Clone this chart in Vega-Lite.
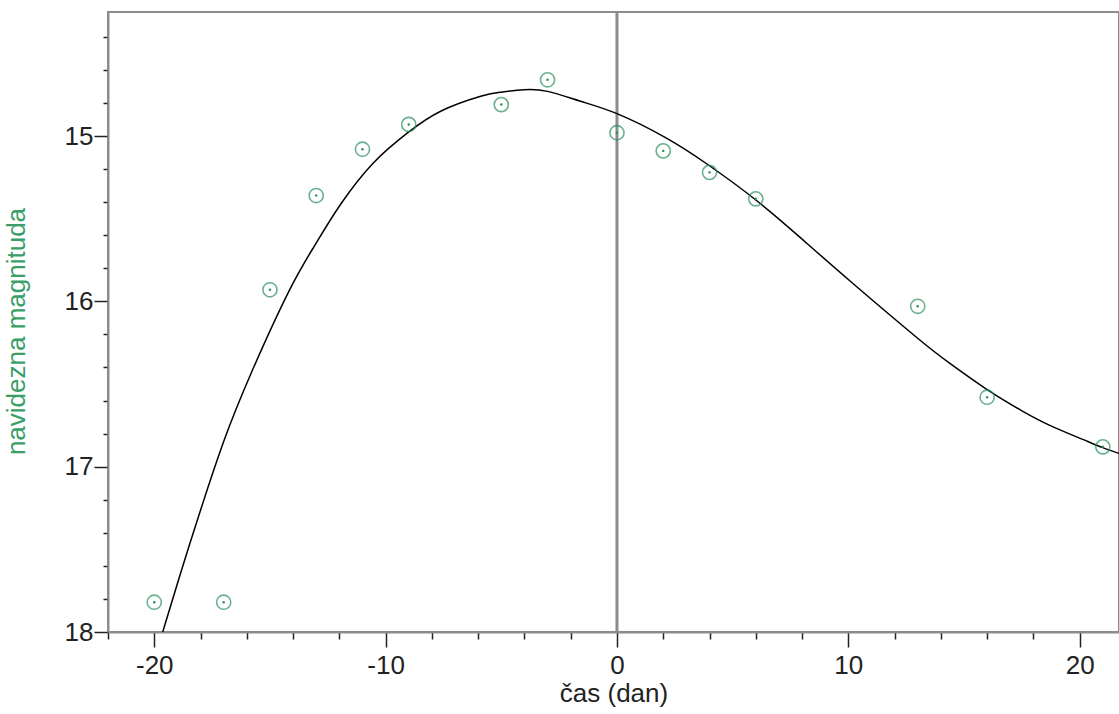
{
  "$schema": "https://vega.github.io/schema/vega-lite/v6.json",
  "width": 1011,
  "height": 620,
  "autosize": {"type": "none"},
  "padding": {"left": 108, "top": 12, "right": 0, "bottom": 82},
  "background": "white",
  "view": {"stroke": "#8c8c8c", "strokeWidth": 2},
  "config": {
    "font": "Liberation Sans",
    "axis": {
      "domainColor": "#8c8c8c",
      "domainWidth": 2,
      "tickColor": "#222222",
      "tickWidth": 1.5,
      "labelFont": "Liberation Sans",
      "labelFontSize": 26,
      "labelColor": "#222222",
      "titleFont": "Liberation Sans",
      "titleFontSize": 26,
      "titleFontWeight": "normal",
      "grid": false,
      "labelOverlap": false,
      "labelFlush": false
    }
  },
  "datasets": {
    "obs": [
      {"t": -20, "m": 17.82},
      {"t": -17, "m": 17.82},
      {"t": -15, "m": 15.93},
      {"t": -13, "m": 15.36},
      {"t": -11, "m": 15.08},
      {"t": -9, "m": 14.93},
      {"t": -5, "m": 14.81},
      {"t": -3, "m": 14.66},
      {"t": 0, "m": 14.98},
      {"t": 2, "m": 15.09},
      {"t": 4, "m": 15.22},
      {"t": 6, "m": 15.38},
      {"t": 13, "m": 16.03},
      {"t": 16, "m": 16.58},
      {"t": 21, "m": 16.88}
    ],
    "fit": [
      {"t": -19.7, "m": 18.03},
      {"t": -19.57, "m": 17.97},
      {"t": -18.83, "m": 17.63},
      {"t": -17.97, "m": 17.25},
      {"t": -16.98, "m": 16.84},
      {"t": -15.8, "m": 16.43},
      {"t": -14.22, "m": 15.95},
      {"t": -13.1, "m": 15.67},
      {"t": -11.93, "m": 15.41},
      {"t": -10.51, "m": 15.16},
      {"t": -9.04, "m": 14.98},
      {"t": -7.62, "m": 14.85},
      {"t": -5.89, "m": 14.76},
      {"t": -5.03, "m": 14.735},
      {"t": -4.03, "m": 14.72},
      {"t": -3.0, "m": 14.73},
      {"t": -1.57, "m": 14.79},
      {"t": 0, "m": 14.865},
      {"t": 2.1, "m": 15.01},
      {"t": 4.0, "m": 15.18},
      {"t": 6.03, "m": 15.39},
      {"t": 7.89, "m": 15.61},
      {"t": 10.1, "m": 15.88},
      {"t": 12.97, "m": 16.22},
      {"t": 14.39, "m": 16.375},
      {"t": 16.12, "m": 16.545},
      {"t": 17.54, "m": 16.665},
      {"t": 18.71, "m": 16.75},
      {"t": 20.13, "m": 16.835},
      {"t": 21.0, "m": 16.885},
      {"t": 21.7, "m": 16.92}
    ],
    "zero": [{"t": 0}]
  },
  "encoding": {
    "x": {
      "field": "t",
      "type": "quantitative",
      "scale": {"domain": [-22, 21.7], "nice": false, "zero": false},
      "axis": {
        "title": "čas (dan)",
        "titleColor": "#222222",
        "titlePadding": 2,
        "values": [-22, -20, -18, -16, -14, -12, -10, -8, -6, -4, -2, 0, 2, 4, 6, 8, 10, 12, 14, 16, 18, 20],
        "labelExpr": "datum.value % 10 === 0 ? '' + datum.value : ''",
        "tickSize": {"condition": {"test": "datum.value % 10 === 0", "value": 15}, "value": 7},
        "labelPadding": 5
      }
    },
    "y": {
      "field": "m",
      "type": "quantitative",
      "scale": {"domain": [14.25, 18], "reverse": true, "nice": false, "zero": false},
      "axis": {
        "title": "navidezna magnituda",
        "titleColor": "#3a9e68",
        "titlePadding": 35,
        "titleY": 319,
        "values": [14.4, 14.6, 14.8, 15, 15.2, 15.4, 15.6, 15.8, 16, 16.2, 16.4, 16.6, 16.8, 17, 17.2, 17.4, 17.6, 17.8, 18],
        "labelExpr": "abs(datum.value - round(datum.value)) < 0.001 ? '' + round(datum.value) : ''",
        "tickSize": {"condition": {"test": "abs(datum.value - round(datum.value)) < 0.001", "value": 14}, "value": 5},
        "labelPadding": 1
      }
    }
  },
  "layer": [
    {
      "data": {"name": "zero"},
      "mark": {"type": "rule", "color": "#8c8c8c", "strokeWidth": 3},
      "encoding": {"y": {"value": 0}, "y2": {"value": 620}}
    },
    {
      "data": {"name": "fit"},
      "mark": {"type": "line", "color": "#000000", "strokeWidth": 1.5, "interpolate": "natural", "clip": true}
    },
    {
      "data": {"name": "obs"},
      "mark": {"type": "point", "shape": "circle", "filled": false, "color": "#2a9060", "size": 200, "strokeWidth": 1.6}
    },
    {
      "data": {"name": "obs"},
      "mark": {"type": "point", "shape": "circle", "filled": true, "color": "#2a9060", "size": 6, "opacity": 1}
    }
  ]
}
